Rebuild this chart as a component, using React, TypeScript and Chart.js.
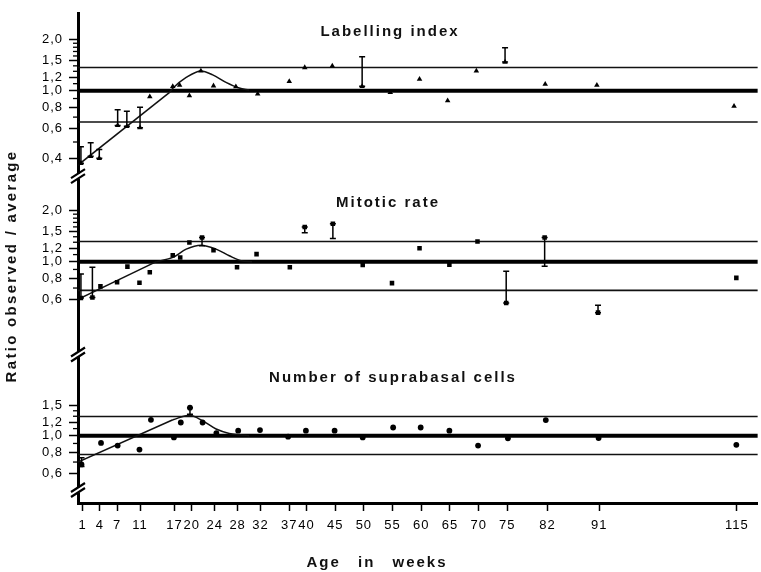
import React, { useEffect, useRef } from 'react';
import { Chart, registerables } from 'chart.js';

Chart.register(...registerables);

const FONT = '"Liberation Sans", Arial, Helvetica, sans-serif';

// ---- X axis (age in weeks) ----
const ageTicks = [1, 4, 7, 11, 17, 20, 24, 28, 32, 37, 40, 45, 50, 55, 60, 65, 70, 75, 82, 91, 115];
const ageMin = 0.19;
const ageMax = 118.64;

// ---- Labelling index ----
const labWeeks = [0.7, 2.4, 3.9, 7.1, 8.7, 11.0, 12.7, 16.7, 17.9, 19.6, 21.6, 23.8, 27.7, 31.5, 37.0, 39.7, 44.5, 49.7, 54.6, 59.7, 64.6, 69.6, 74.6, 81.6, 90.6, 114.5];
const labRatio = [0.375, 0.412, 0.401, 0.626, 0.618, 0.607, 0.923, 1.061, 1.079, 0.935, 1.307, 1.069, 1.055, 0.957, 1.134, 1.368, 1.397, 1.061, 0.979, 1.169, 0.875, 1.307, 1.474, 1.094, 1.079, 0.812];
const labErrHigh = [0.469, 0.495, 0.452, 0.772, 0.759, 0.801, null, null, null, null, null, null, null, null, null, null, null, 1.585, null, null, null, null, 1.788, null, null, null];
const labErrLow = [null, null, null, null, null, null, null, null, null, null, null, null, null, null, null, null, null, null, null, null, null, null, null, null, null, null];
const labFitLineWeeks = [0.19, 16.15];
const labFitLineRatio = [0.366, 0.979];
const labFitCurveWeeks = [16.15, 16.72, 19.04, 21.64, 23.66, 25.98, 28.29, 30.0];
const labFitCurveRatio = [0.979, 1.033, 1.196, 1.307, 1.239, 1.119, 1.037, 1.01];
const labTicks = [0.4, 0.6, 0.8, 1.0, 1.2, 1.5, 2.0];
const labMinor = [0.5, 0.7, 0.9, 1.1, 1.3, 1.4, 1.6, 1.7, 1.8, 1.9];

// ---- Mitotic rate ----
const mitWeeks = [0.7, 2.7, 4.1, 7.0, 8.8, 10.9, 12.7, 16.7, 18.0, 19.6, 21.8, 23.8, 27.9, 31.3, 37.1, 39.7, 44.6, 49.8, 54.9, 59.7, 64.9, 69.8, 74.8, 81.5, 90.8, 114.9];
const mitRatio = [0.612, 0.616, 0.716, 0.758, 0.935, 0.751, 0.867, 1.092, 1.059, 1.295, 1.385, 1.168, 0.927, 1.107, 0.927, 1.597, 1.67, 0.955, 0.748, 1.2, 0.96, 1.312, 0.572, 1.385, 0.502, 0.803];
const mitErrHigh = [0.847, 0.927, null, null, null, null, null, null, null, null, null, null, null, null, null, null, null, null, null, null, null, null, 0.878, null, 0.555, null];
const mitErrLow = [null, null, null, null, null, null, null, null, null, null, 1.239, null, null, null, null, 1.48, 1.366, null, null, null, null, null, null, 0.939, null, null];
const mitFitLineWeeks = [0.19, 13.84];
const mitFitLineRatio = [0.601, 1.0];
const mitFitCurveWeeks = [13.84, 16.72, 19.04, 21.64, 24.25, 26.55, 28.58, 30.5];
const mitFitCurveRatio = [1.0, 1.059, 1.184, 1.249, 1.184, 1.083, 1.013, 1.0];
const mitTicks = [0.6, 0.8, 1.0, 1.2, 1.5, 2.0];
const mitMinor = [0.7, 0.9, 1.1, 1.3, 1.4, 1.6, 1.7, 1.8, 1.9];

// ---- Number of suprabasal cells ----
const supWeeks = [0.8, 4.2, 7.1, 10.9, 12.9, 16.9, 18.1, 19.7, 21.9, 24.3, 28.1, 31.9, 36.8, 39.9, 44.9, 49.8, 55.1, 59.9, 64.9, 69.9, 75.1, 81.7, 90.9, 114.9];
const supRatio = [0.678, 0.907, 0.875, 0.829, 1.239, 0.977, 1.195, 1.46, 1.195, 1.036, 1.069, 1.079, 0.987, 1.069, 1.069, 0.977, 1.117, 1.117, 1.069, 0.875, 0.964, 1.234, 0.969, 0.883];
const supErrHigh = [0.742, null, null, null, null, null, null, null, null, null, null, null, null, null, null, null, null, null, null, null, null, null, null, null];
const supErrLow = [0.66, null, null, null, null, null, null, 1.337, null, null, null, null, null, null, null, null, null, null, null, null, null, null, null, null];
const supFitLineWeeks = [0.19, 16.72];
const supFitLineRatio = [0.7, 1.239];
const supFitCurveWeeks = [16.72, 19.61, 21.92, 24.25, 26.55, 28.29, 30.0];
const supFitCurveRatio = [1.239, 1.319, 1.222, 1.094, 1.031, 1.013, 1.0];
const supTicks = [0.6, 0.8, 1.0, 1.2, 1.5];
const supMinor = [0.7, 0.9, 1.1, 1.3, 1.4];

// ---- reference lines (mean and limits) per panel ----
const panelTitles = ['Labelling index', 'Mitotic rate', 'Number of suprabasal cells'];
const meanRatio = [1.0, 1.0, 1.0];
const upperLimit = [1.368, 1.312, 1.295];
const lowerLimit = [0.655, 0.678, 0.775];
const axisMin = [0.2868, 0.2668, 0.4024];
const axisMax = [2.829, 2.891, 2.804];
const breakRatio = [0.315, 0.285, 0.48];

const panels = [
  { id: 'y1', weeks: labWeeks, ratio: labRatio, lo: labErrLow, hi: labErrHigh, lw: labFitLineWeeks, lr: labFitLineRatio, cw: labFitCurveWeeks, cr: labFitCurveRatio, ticks: labTicks, minor: labMinor, marker: 'triangle', radius: 3.2, titleX: 390, titleDy: 18 },
  { id: 'y2', weeks: mitWeeks, ratio: mitRatio, lo: mitErrLow, hi: mitErrHigh, lw: mitFitLineWeeks, lr: mitFitLineRatio, cw: mitFitCurveWeeks, cr: mitFitCurveRatio, ticks: mitTicks, minor: mitMinor, marker: 'rect', radius: 3.2, titleX: 388, titleDy: 20 },
  { id: 'y3', weeks: supWeeks, ratio: supRatio, lo: supErrLow, hi: supErrHigh, lw: supFitLineWeeks, lr: supFitLineRatio, cw: supFitCurveWeeks, cr: supFitCurveRatio, ticks: supTicks, minor: supMinor, marker: 'circle', radius: 2.9, titleX: 393, titleDy: 18 },
];

const pts = (xs: number[], ys: number[]) => xs.map((x, i) => ({ x, y: ys[i] }));

function buildDatasets() {
  const ds: any[] = [];
  panels.forEach((p, k) => {
    ds.push({
      data: pts(p.weeks, p.ratio), yAxisID: p.id, showLine: false,
      pointStyle: p.marker, pointRadius: p.radius, pointBackgroundColor: '#000', pointBorderWidth: 0, pointHoverRadius: p.radius,
    });
    ds.push({
      data: pts(p.lw, p.lr), yAxisID: p.id, showLine: true, borderColor: '#111', borderWidth: 1.5, pointRadius: 0, tension: 0,
    });
    ds.push({
      data: pts(p.cw, p.cr), yAxisID: p.id, showLine: true, borderColor: '#111', borderWidth: 1.5, pointRadius: 0, cubicInterpolationMode: 'monotone',
    });
    ds.push({
      data: [{ x: ageMin, y: meanRatio[k] }, { x: ageMax, y: meanRatio[k] }], yAxisID: p.id, showLine: true, borderColor: '#000', borderWidth: 4, pointRadius: 0,
    });
    ds.push({
      data: [{ x: ageMin, y: upperLimit[k] }, { x: ageMax, y: upperLimit[k] }], yAxisID: p.id, showLine: true, borderColor: '#111', borderWidth: 1.6, pointRadius: 0,
    });
    ds.push({
      data: [{ x: ageMin, y: lowerLimit[k] }, { x: ageMax, y: lowerLimit[k] }], yAxisID: p.id, showLine: true, borderColor: '#111', borderWidth: 1.6, pointRadius: 0,
    });
  });
  return ds;
}

function buildScales() {
  const scales: any = {
    x: {
      type: 'linear', position: 'bottom', min: ageMin, max: ageMax, bounds: 'data',
      afterBuildTicks: (s: any) => { s.ticks = ageTicks.map((v) => ({ value: v })); },
      afterFit: (s: any) => { s.height = 69; },
      ticks: { autoSkip: false, maxRotation: 0, minRotation: 0, padding: 7, color: '#000', font: { family: FONT, size: 13 }, callback: (v: any) => String(v) },
      grid: { drawOnChartArea: false, drawTicks: true, tickLength: 8, tickWidth: 1.5, tickColor: '#000' },
      border: { display: true, color: '#000', width: 3 },
    },
  };
  panels.forEach((p, k) => {
    scales[p.id] = {
      type: 'logarithmic', position: 'left', stack: 'ratio', weight: 3 - k,
      stackWeight: Math.log10(axisMax[k] / axisMin[k]),
      min: axisMin[k], max: axisMax[k], bounds: 'data',
      afterBuildTicks: (s: any) => { s.ticks = p.ticks.map((v) => ({ value: v })); },
      afterFit: (s: any) => { s.width = 78; },
      ticks: { autoSkip: false, padding: 6, color: '#000', font: { family: FONT, size: 13 }, callback: (v: any) => Number(v).toFixed(1).replace('.', ',') },
      grid: { drawOnChartArea: false, drawTicks: true, tickLength: 9, tickWidth: 1.5, tickColor: '#000' },
      border: { display: true, color: '#000', width: 3 },
    };
  });
  return scales;
}

const decorPlugin = {
  id: 'decor',
  beforeDraw(chart: any) {
    (chart.ctx as any).letterSpacing = '1px';
  },
  afterDatasetsDraw(chart: any) {
    const ctx = chart.ctx;
    const xs = chart.scales.x;
    ctx.save();
    ctx.strokeStyle = '#000';
    ctx.lineWidth = 1.5;
    panels.forEach((p) => {
      const ys = chart.scales[p.id];
      p.weeks.forEach((w, i) => {
        const lo = p.lo[i];
        const hi = p.hi[i];
        if (lo == null && hi == null) return;
        const x = xs.getPixelForValue(w);
        const y1 = ys.getPixelForValue(lo == null ? p.ratio[i] : lo);
        const y2 = ys.getPixelForValue(hi == null ? p.ratio[i] : hi);
        ctx.beginPath();
        ctx.moveTo(x, y1); ctx.lineTo(x, y2);
        ctx.moveTo(x - 3, y1); ctx.lineTo(x + 3, y1);
        ctx.moveTo(x - 3, y2); ctx.lineTo(x + 3, y2);
        ctx.stroke();
      });
    });
    ctx.restore();
  },
  afterDraw(chart: any) {
    const ctx = chart.ctx;
    const area = chart.chartArea;
    ctx.save();
    // minor ticks
    ctx.strokeStyle = '#000';
    ctx.lineWidth = 1.3;
    panels.forEach((p) => {
      const ys = chart.scales[p.id];
      p.minor.forEach((v) => {
        const y = ys.getPixelForValue(v);
        ctx.beginPath();
        ctx.moveTo(ys.right - 5, y); ctx.lineTo(ys.right - 1, y);
        ctx.stroke();
      });
    });
    // axis breaks
    panels.forEach((p, k) => {
      const ys = chart.scales[p.id];
      const y = ys.getPixelForValue(breakRatio[k]);
      const x = area.left;
      ctx.fillStyle = '#fff';
      ctx.fillRect(x - 3, y - 2.5, 6, 5);
      ctx.strokeStyle = '#000';
      ctx.lineWidth = 2.2;
      ctx.beginPath();
      ctx.moveTo(x - 7, y + 2); ctx.lineTo(x + 7, y - 7);
      ctx.moveTo(x - 7, y + 7); ctx.lineTo(x + 7, y - 2);
      ctx.stroke();
    });
    // titles
    ctx.fillStyle = '#111';
    ctx.font = `bold 15px ${FONT}`;
    (ctx as any).letterSpacing = '2px';
    ctx.textAlign = 'center';
    ctx.textBaseline = 'middle';
    panels.forEach((p, k) => {
      const ys = chart.scales[p.id];
      ctx.fillText(panelTitles[k], p.titleX, ys.top + p.titleDy);
    });
    (ctx as any).wordSpacing = '11px';
    ctx.fillText('Age in weeks', 377, 563);
    (ctx as any).wordSpacing = '0px';
    ctx.translate(12, 266);
    ctx.rotate(-Math.PI / 2);
    (ctx as any).letterSpacing = '2.3px';
    ctx.fillText('Ratio observed / average', 0, 0);
    ctx.restore();
  },
};

export default function App() {
  const ref = useRef<HTMLCanvasElement>(null);
  useEffect(() => {
    const canvas = ref.current;
    if (!canvas) return;
    const chart = new Chart(canvas, {
      type: 'scatter',
      data: { datasets: buildDatasets() },
      options: {
        responsive: false,
        animation: false,
        devicePixelRatio: 1,
        layout: { padding: { top: 9, left: 0, right: 0, bottom: 0 } },
        plugins: { legend: { display: false }, tooltip: { enabled: false } },
        events: [],
        scales: buildScales(),
      } as any,
      plugins: [decorPlugin],
    });
    return () => chart.destroy();
  }, []);
  return (
    <div style={{ position: 'absolute', left: 0, top: 0, width: 761, height: 572, background: '#fff' }}>
      <canvas ref={ref} width={761} height={572} style={{ display: 'block', width: 761, height: 572 }} />
    </div>
  );
}
